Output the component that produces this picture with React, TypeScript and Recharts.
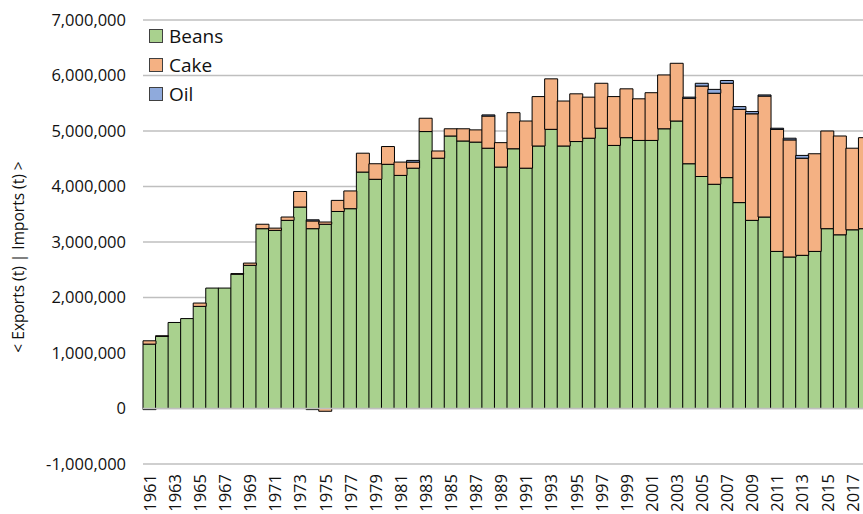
import React from 'react';
import {
  BarChart,
  Bar,
  XAxis,
  YAxis,
  CartesianGrid,
  Legend,
  ReferenceLine,
  Label,
} from 'recharts';

// Years and tonnages (in tonnes)
const years = [
  1961, 1962, 1963, 1964, 1965, 1966, 1967, 1968, 1969, 1970,
  1971, 1972, 1973, 1974, 1975, 1976, 1977, 1978, 1979, 1980,
  1981, 1982, 1983, 1984, 1985, 1986, 1987, 1988, 1989, 1990,
  1991, 1992, 1993, 1994, 1995, 1996, 1997, 1998, 1999, 2000,
  2001, 2002, 2003, 2004, 2005, 2006, 2007, 2008, 2009, 2010,
  2011, 2012, 2013, 2014, 2015, 2016, 2017, 2018,
];

const beansImports = [
  1160000, 1300000, 1550000, 1620000, 1840000, 2170000, 2170000, 2420000, 2580000, 3240000,
  3210000, 3390000, 3630000, 3240000, 3320000, 3550000, 3600000, 4260000, 4130000, 4400000,
  4200000, 4330000, 4990000, 4510000, 4910000, 4820000, 4800000, 4690000, 4350000, 4680000,
  4330000, 4730000, 5030000, 4730000, 4810000, 4870000, 5050000, 4740000, 4880000, 4830000,
  4830000, 5040000, 5180000, 4410000, 4180000, 4040000, 4160000, 3710000, 3390000, 3450000,
  2830000, 2730000, 2760000, 2830000, 3240000, 3130000, 3220000, 3240000,
];

const cakeImports = [
  60000, 10000, 0, 0, 60000, 0, 0, 10000, 40000, 80000,
  40000, 60000, 280000, 140000, 40000, 200000, 320000, 340000, 280000, 320000,
  240000, 110000, 240000, 130000, 130000, 220000, 220000, 580000, 440000, 650000,
  850000, 890000, 910000, 810000, 860000, 740000, 810000, 880000, 880000, 750000,
  860000, 970000, 1040000, 1180000, 1630000, 1640000, 1700000, 1680000, 1920000, 2180000,
  2200000, 2110000, 1750000, 1760000, 1760000, 1780000, 1470000, 1640000,
];

const oilImports = [
  0, 0, 0, 0, 0, 0, 0, 0, 0, 0,
  0, 0, 0, 20000, 0, 0, 0, 0, 0, 0,
  0, 30000, 0, 0, 0, 0, 0, 20000, 0, 0,
  0, 0, 0, 0, 0, 0, 0, 0, 0, 0,
  0, 0, 0, 20000, 50000, 70000, 50000, 50000, 40000, 20000,
  20000, 30000, 50000, 0, 0, 0, 0, 0,
];

const beansExports = [
  0, 0, 0, 0, 0, 0, 0, 0, 0, 0,
  0, 0, 0, -20000, 0, 0, 0, 0, 0, 0,
  0, 0, 0, 0, 0, 0, 0, 0, 0, 0,
  0, 0, 0, 0, 0, 0, 0, 0, 0, 0,
  0, 0, 0, 0, 0, 0, 0, 0, 0, 0,
  0, 0, 0, 0, 0, 0, 0, 0,
];

const cakeExports = [
  0, 0, 0, 0, 0, 0, 0, 0, 0, 0,
  0, 0, 0, 0, -50000, 0, 0, 0, 0, 0,
  0, 0, 0, 0, 0, 0, 0, 0, 0, 0,
  0, 0, 0, 0, 0, 0, 0, 0, 0, 0,
  0, 0, 0, 0, 0, 0, 0, 0, 0, 0,
  0, 0, 0, 0, 0, 0, 0, 0,
];

const oilExports = [
  -20000, 0, 0, 0, 0, 0, 0, 0, 0, 0,
  0, 0, 0, 0, 0, 0, 0, 0, 0, 0,
  0, 0, 0, 0, 0, 0, 0, 0, 0, 0,
  0, 0, 0, 0, 0, 0, 0, 0, 0, 0,
  0, 0, 0, 0, 0, 0, 0, 0, 0, 0,
  0, 0, 0, 0, 0, 0, 0, 0,
];

const yTicks = [-1000000, 0, 1000000, 2000000, 3000000, 4000000, 5000000, 6000000, 7000000];

const GREEN = '#a9d18e';
const ORANGE = '#f4b183';
const BLUE = '#8faadc';
const FONT = '"Open Sans", sans-serif';

const legendItems = [
  { name: 'Beans', color: GREEN },
  { name: 'Cake', color: ORANGE },
  { name: 'Oil', color: BLUE },
];

const data = years.map((year, i) => ({
  year,
  beans: beansImports[i],
  cake: cakeImports[i],
  oil: oilImports[i],
  beansEx: beansExports[i],
  cakeEx: cakeExports[i],
  oilEx: oilExports[i],
}));

const renderLegend = () => (
  <div style={{ fontFamily: FONT, fontSize: 19, color: '#111', textAlign: 'left' }}>
    {legendItems.map((item) => (
      <div key={item.name} style={{ display: 'flex', alignItems: 'center', height: 29 }}>
        <span
          style={{
            display: 'inline-block',
            width: 12,
            height: 12,
            background: item.color,
            border: '1px solid #404040',
            marginRight: 6,
          }}
        />
        {item.name}
      </div>
    ))}
  </div>
);

const YearTick = (props: any) => {
  const { x, y, payload } = props;
  return (
    <text
      x={x}
      y={y}
      transform={`rotate(-90 ${x} ${y})`}
      textAnchor="end"
      dominantBaseline="central"
      fontFamily={FONT}
      fontSize={16.5}
      fill="#111"
    >
      {payload.value}
    </text>
  );
};

const App: React.FC = () => {
  return (
    <div
      style={{
        position: 'absolute',
        left: 0,
        top: 0,
        width: 863,
        height: 514,
        overflow: 'hidden',
        background: '#fff',
      }}
    >
      <BarChart
        width={880}
        height={540}
        data={data}
        stackOffset="sign"
        barCategoryGap={0}
        barGap={0}
        margin={{ top: 20, right: 9, bottom: 0, left: 0 }}
      >
        <CartesianGrid vertical={false} stroke="#bfbfbf" strokeWidth={1.5} />
        <XAxis
          dataKey="year"
          interval={1}
          axisLine={false}
          tickLine={false}
          height={76}
          tick={<YearTick />}
          tickMargin={4}
        />
        <YAxis
          domain={[-1000000, 7000000]}
          ticks={yTicks}
          width={143}
          axisLine={false}
          tickLine={false}
          tickSize={0}
          tickMargin={17}
          interval={0}
          tick={{ fontFamily: FONT, fontSize: 16.5, fill: '#111' }}
          tickFormatter={(v: number) => v.toLocaleString('en-US')}
        >
          <Label
            content={() => (
              <text
                x={18}
                y={257}
                transform="rotate(-90 18 257)"
                textAnchor="middle"
                dominantBaseline="central"
                fontFamily={FONT}
                fontSize={15.5}
                fill="#111"
              >
                {'< Exports (t) | Imports (t) >'}
              </text>
            )}
          />
        </YAxis>
        <ReferenceLine y={0} stroke="#bfbfbf" strokeWidth={1.5} />
        <Legend
          content={renderLegend}
          layout="horizontal"
          verticalAlign="middle"
          align="center"
          wrapperStyle={{ position: 'absolute', top: 21, left: 149, width: 120 }}
        />
        <Bar dataKey="beans" stackId="a" fill={GREEN} stroke="#000" strokeWidth={1} isAnimationActive={false} />
        <Bar dataKey="cake" stackId="a" fill={ORANGE} stroke="#000" strokeWidth={1} isAnimationActive={false} />
        <Bar dataKey="oil" stackId="a" fill={BLUE} stroke="#000" strokeWidth={1} isAnimationActive={false} />
        <Bar dataKey="beansEx" stackId="a" fill={GREEN} stroke="#000" strokeWidth={1} legendType="none" isAnimationActive={false} />
        <Bar dataKey="cakeEx" stackId="a" fill={ORANGE} stroke="#000" strokeWidth={1} legendType="none" isAnimationActive={false} />
        <Bar dataKey="oilEx" stackId="a" fill={BLUE} stroke="#000" strokeWidth={1} legendType="none" isAnimationActive={false} />
      </BarChart>
    </div>
  );
};

export default App;
